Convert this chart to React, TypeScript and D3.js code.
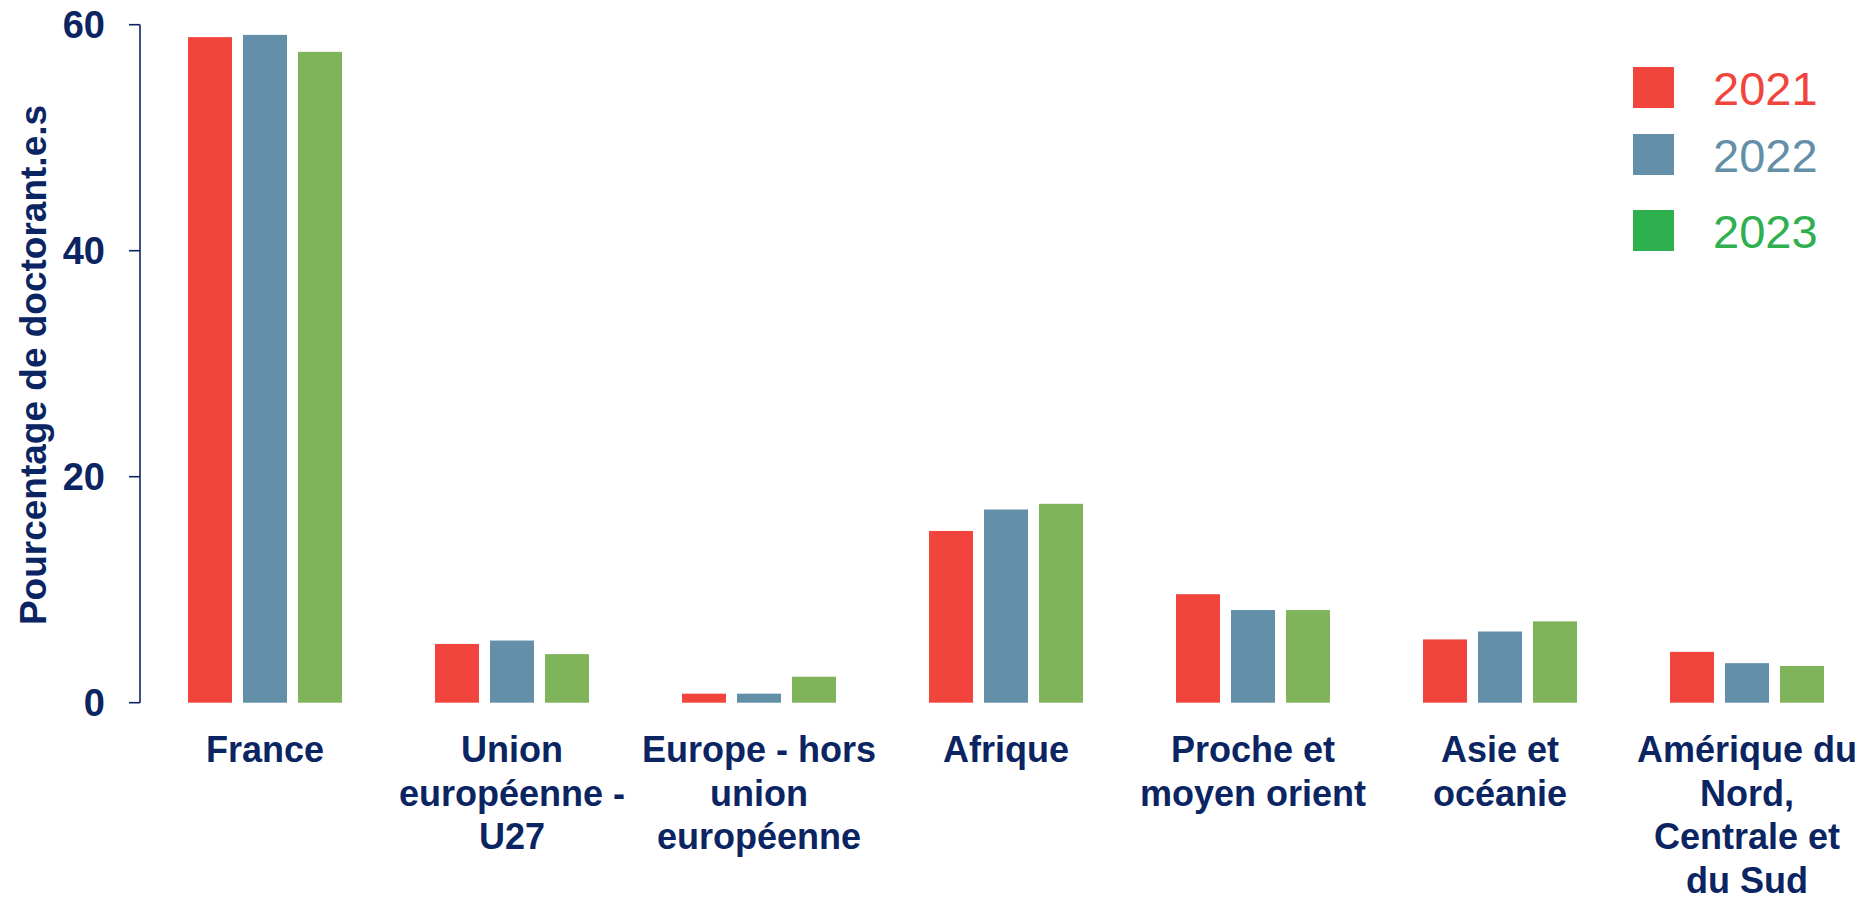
import React from "react";
import * as d3 from "d3";

const categories = [
  "France",
  "Union européenne - U27",
  "Europe - hors union européenne",
  "Afrique",
  "Proche et moyen orient",
  "Asie et océanie",
  "Amérique du Nord, Centrale et du Sud",
];
const categoryLines = [
  ["France"],
  ["Union", "européenne -", "U27"],
  ["Europe - hors", "union", "européenne"],
  ["Afrique"],
  ["Proche et", "moyen orient"],
  ["Asie et", "océanie"],
  ["Amérique du", "Nord,", "Centrale et", "du Sud"],
];
const years = ["2021", "2022", "2023"];
const values2021 = [58.9, 5.2, 0.8, 15.2, 9.6, 5.6, 4.5];
const values2022 = [59.1, 5.5, 0.8, 17.1, 8.2, 6.3, 3.5];
const values2023 = [57.6, 4.3, 2.3, 17.6, 8.2, 7.2, 3.25];
const yTicks = [0, 20, 40, 60];
const yTitle = "Pourcentage de doctorant.e.s";

const barColors = ["#F1443D", "#638FA8", "#7FB45A"];
const legendColors = ["#F1443D", "#638FA8", "#2EB04F"];
const navy = "#0B2462";

export default function App() {
  const W = 1867;
  const H = 902;
  const series = [values2021, values2022, values2023];

  const x = d3
    .scaleBand<string>()
    .domain(categories)
    .range([141.5, 141.5 + 7 * 247])
    .paddingInner(0.3765)
    .paddingOuter(0.3765 / 2);
  const xi = d3
    .scaleBand<string>()
    .domain(years)
    .range([0, x.bandwidth()])
    .paddingInner(0.2)
    .paddingOuter(0);
  const y = d3.scaleLinear().domain([0, 60]).range([702.7, 24.7]);

  const font = "Arial, 'Liberation Sans', sans-serif";
  const legendTops = [67, 134, 210];

  return (
    <svg
      width={W}
      height={H}
      style={{ position: "absolute", left: 0, top: 0, background: "#fff" }}
      fontFamily={font}
    >
      {/* bars */}
      {categories.map((c, ci) => (
        <g key={c} transform={`translate(${x(c)},0)`}>
          {years.map((yr, si) => {
            const v = series[si][ci];
            return (
              <rect
                key={yr}
                x={xi(yr)}
                y={y(v)}
                width={xi.bandwidth()}
                height={y(0) - y(v)}
                fill={barColors[si]}
              />
            );
          })}
        </g>
      ))}

      {/* y axis */}
      <line x1={140} x2={140} y1={y(60)} y2={y(0)} stroke={navy} strokeWidth={1.6} />
      {yTicks.map((t) => (
        <g key={t}>
          <line x1={129} x2={140} y1={y(t)} y2={y(t)} stroke={navy} strokeWidth={1.6} />
          <text
            x={105}
            y={y(t)}
            dy="0.36em"
            textAnchor="end"
            fontSize={38}
            fontWeight="bold"
            fill={navy}
          >
            {t}
          </text>
        </g>
      ))}
      <text
        transform={`translate(46,${365}) rotate(-90)`}
        textAnchor="middle"
        fontSize={37}
        fontWeight="bold"
        fill={navy}
      >
        {yTitle}
      </text>

      {/* category labels */}
      {categories.map((c, ci) => (
        <text
          key={c}
          x={(x(c) as number) + x.bandwidth() / 2}
          y={762}
          textAnchor="middle"
          fontSize={36}
          fontWeight="bold"
          fill={navy}
        >
          {categoryLines[ci].map((line, li) => (
            <tspan key={li} x={(x(c) as number) + x.bandwidth() / 2} y={762 + li * 43.5}>
              {line}
            </tspan>
          ))}
        </text>
      ))}

      {/* legend */}
      {years.map((yr, i) => (
        <g key={yr}>
          <rect x={1633} y={legendTops[i]} width={41} height={41} fill={legendColors[i]} />
          <text
            x={1713}
            y={legendTops[i] + 20.5 + 17.5}
            fontSize={47}
            fill={legendColors[i]}
          >
            {yr}
          </text>
        </g>
      ))}
    </svg>
  );
}
